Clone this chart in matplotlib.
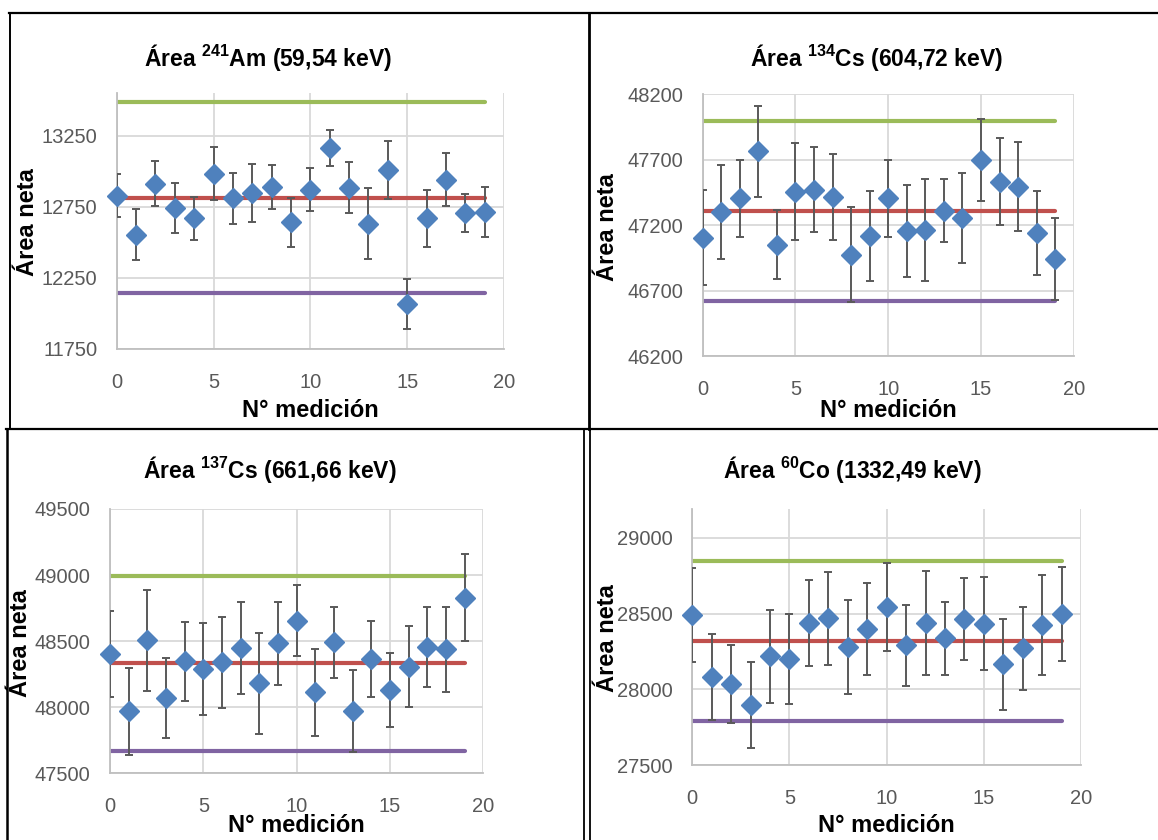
import matplotlib
matplotlib.use("Agg")
import matplotlib.pyplot as plt
from matplotlib.lines import Line2D

# ---------------- data ----------------
n_med = list(range(20))
x_ticks = [0, 5, 10, 15, 20]

am_area = [12828, 12554, 12913, 12742, 12669, 12981, 12810, 12847, 12889, 12641,
           12871, 13163, 12885, 12632, 13006, 12067, 12669, 12941, 12707, 12714]
am_err = [153, 181, 157, 177, 150, 186, 181, 201, 155, 173,
          153, 126, 181, 252, 204, 178, 200, 188, 133, 174]
am_mean, am_upper, am_lower = 12814, 13484, 12145
am_yticks = [11750, 12250, 12750, 13250]

cs134_area = [47105, 47300, 47405, 47763, 47051, 47455, 47471, 47412, 46975, 47118,
              47405, 47153, 47163, 47311, 47257, 47697, 47532, 47494, 47138, 46940]
cs134_err = [361, 358, 293, 346, 264, 369, 323, 328, 362, 343,
             295, 351, 386, 243, 344, 311, 330, 340, 321, 314]
cs134_mean, cs134_upper, cs134_lower = 47311, 47992, 46625
cs134_yticks = [46200, 46700, 47200, 47700, 48200]

cs137_area = [48403, 47969, 48506, 48070, 48347, 48289, 48340, 48446, 48181, 48484,
              48655, 48113, 48491, 47969, 48363, 48128, 48307, 48458, 48438, 48829]
cs137_err = [328, 327, 381, 300, 299, 347, 346, 349, 380, 316,
             267, 330, 269, 309, 286, 280, 306, 303, 324, 331]
cs137_mean, cs137_upper, cs137_lower = 48332, 48991, 47669
cs137_yticks = [47500, 48000, 48500, 49000, 49500]

co60_area = [28490, 28081, 28035, 27896, 28220, 28198, 28437, 28468, 28280, 28401,
             28545, 28293, 28437, 28337, 28463, 28434, 28165, 28271, 28426, 28496]
co60_err = [308, 285, 255, 283, 307, 297, 285, 304, 307, 303,
            290, 267, 341, 239, 270, 308, 299, 276, 328, 309]
co60_mean, co60_upper, co60_lower = 28320, 28845, 27794
co60_yticks = [27500, 28000, 28500, 29000]

titles = [r"Área $\mathrm{^{241}}$Am (59,54 keV)",
          r"Área $\mathrm{^{134}}$Cs (604,72 keV)",
          r"Área $\mathrm{^{137}}$Cs (661,66 keV)",
          r"Área $\mathrm{^{60}}$Co (1332,49 keV)"]
x_label = "N° medición"
y_label = "Área neta"

# ---------------- fonts ----------------
FONT = "Liberation Sans"
plt.rcParams["font.family"] = [FONT, "DejaVu Sans"]
plt.rcParams["mathtext.fontset"] = "custom"
plt.rcParams["mathtext.rm"] = FONT + ":bold"
plt.rcParams["mathtext.bf"] = FONT + ":bold"

W, H = 1158, 840
fig = plt.figure(figsize=(W / 100, H / 100), dpi=100)
fig.patch.set_facecolor("white")

BLUE = "#4F81BD"
RED = "#C0504D"
GREEN = "#9BBB59"
PURPLE = "#8064A2"
ERR = "#595959"
GRID = "#D9D9D9"
AXIS = "#BFBFBF"
TICK = "#595959"


def fx(x):
    return x / W


def fy(y):
    return 1 - y / H


panels = [
    dict(area=am_area, err=am_err, mean=am_mean, up=am_upper, lo=am_lower,
         yticks=am_yticks, ylim=(11750, 13550), box=(116.7, 93, 504, 349),
         title=titles[0], title_xy=(268, 66), ylab_xy=(27, 222), xlab_y=410),
    dict(area=cs134_area, err=cs134_err, mean=cs134_mean, up=cs134_upper, lo=cs134_lower,
         yticks=cs134_yticks, ylim=(46200, 48200), box=(702.7, 94, 1073.7, 356.3),
         title=titles[1], title_xy=(877, 66), ylab_xy=(607, 227), xlab_y=410),
    dict(area=cs137_area, err=cs137_err, mean=cs137_mean, up=cs137_upper, lo=cs137_lower,
         yticks=cs137_yticks, ylim=(47500, 49500), box=(110, 509, 483.3, 773.3),
         title=titles[2], title_xy=(270, 478), ylab_xy=(21, 643), xlab_y=826),
    dict(area=co60_area, err=co60_err, mean=co60_mean, up=co60_upper, lo=co60_lower,
         yticks=co60_yticks, ylim=(27500, 29190), box=(692.3, 509, 1081, 765.3),
         title=titles[3], title_xy=(852, 478), ylab_xy=(607, 638), xlab_y=826),
]

for p in panels:
    x0, y0, x1, y1 = p["box"]
    ax = fig.add_axes([fx(x0), fy(y1), (x1 - x0) / W, (y1 - y0) / H])
    ax.set_xlim(0, 20)
    ax.set_ylim(*p["ylim"])
    ax.set_xticks(x_ticks)
    ax.set_yticks(p["yticks"])
    ax.grid(True, color=GRID, lw=1.3, zorder=0)
    ax.set_axisbelow(True)
    for s in ["top", "right"]:
        ax.spines[s].set_visible(False)
    for s in ["left", "bottom"]:
        ax.spines[s].set_color(AXIS)
        ax.spines[s].set_linewidth(1.3)
    ax.tick_params(length=0, labelsize=14.5, labelcolor=TICK)
    ax.tick_params(axis="x", pad=17)
    ax.tick_params(axis="y", pad=14)

    ax.plot(n_med, [p["up"]] * len(n_med), color=GREEN, lw=3.0,
            solid_capstyle="round", zorder=2)
    ax.plot(n_med, [p["mean"]] * len(n_med), color=RED, lw=3.0,
            solid_capstyle="round", zorder=2)
    ax.plot(n_med, [p["lo"]] * len(n_med), color=PURPLE, lw=3.0,
            solid_capstyle="round", zorder=2)
    ax.errorbar(n_med, p["area"], yerr=p["err"], fmt="none", ecolor=ERR,
                elinewidth=1.4, capsize=3.2, capthick=1.4, zorder=3)
    ax.plot(n_med, p["area"], linestyle="none", marker="D", ms=9.8,
            color=BLUE, mec=BLUE, zorder=4, clip_on=False)

    fig.text(fx(p["title_xy"][0]), fy(p["title_xy"][1]), p["title"],
             ha="center", va="baseline", fontsize=16.5, fontweight="bold", color="black")
    fig.text(fx(p["ylab_xy"][0]), fy(p["ylab_xy"][1]), y_label, rotation=90,
             ha="center", va="center", fontsize=17, fontweight="bold", color="black")
    fig.text(fx((x0 + x1) / 2), fy(p["xlab_y"]), x_label,
             ha="center", va="center", fontsize=17, fontweight="bold", color="black")

# ---------------- table borders ----------------
def hline(y, xa, xb, lw):
    fig.add_artist(Line2D([fx(xa), fx(xb)], [fy(y), fy(y)], color="black", lw=lw,
                          transform=fig.transFigure))


def vline(x, ya, yb, lw):
    fig.add_artist(Line2D([fx(x), fx(x)], [fy(ya), fy(yb)], color="black", lw=lw,
                          transform=fig.transFigure))


hline(13, 9, W, 1.6)
vline(10, 13, 429, 1.4)
hline(429, 6, W, 1.6)
vline(589, 13, 429, 2.0)
vline(7, 429, H, 1.8)
vline(584, 429, H, 1.3)
vline(589.5, 429, H, 1.3)

fig.savefig("out.png", dpi=100, facecolor="white")
